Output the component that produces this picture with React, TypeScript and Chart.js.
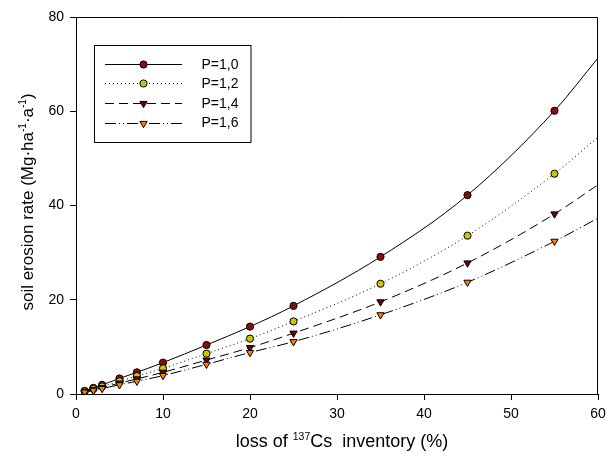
import React, { useEffect, useRef } from "react";
import { Chart, registerables } from "chart.js";

Chart.register(...registerables);

// ---- data ----
const xValues = [1, 2, 3, 5, 7, 10, 15, 20, 25, 35, 45, 55];
const curveEndX = 60;

const seriesLabels = ["P=1,0", "P=1,2", "P=1,4", "P=1,6"];
const valuesP10 = [0.66, 1.3, 1.95, 3.3, 4.6, 6.66, 10.4, 14.3, 18.7, 29.1, 42.2, 60.1];
const valuesP12 = [0.55, 1.07, 1.6, 2.7, 3.8, 5.45, 8.57, 11.75, 15.4, 23.4, 33.6, 46.75];
const valuesP14 = [0.46, 0.9, 1.35, 2.3, 3.2, 4.6, 7.2, 9.85, 12.9, 19.55, 27.8, 38.2];
const valuesP16 = [0.4, 0.77, 1.15, 1.95, 2.7, 3.9, 6.3, 8.8, 11.1, 16.8, 23.7, 32.4];
const curveEndValues = [71.3, 54.5, 44.4, 37.3];

const xTicks = [0, 10, 20, 30, 40, 50, 60];
const yTicks = [0, 20, 40, 60, 80];

// ---- styles ----
const FONT = "Arial, 'Liberation Sans', sans-serif";
const markerColors = ["#8a0c0c", "#c8c800", "#6e0000", "#ff8000"];
const markerStyles = ["circle", "circle", "triangle", "triangle"];
const markerRadius = [3.6, 3.6, 4.2, 4.2];
const lineDashes: number[][] = [[], [1, 3], [9, 5], [11, 3, 1, 3, 1, 3]];

const allValues = [valuesP10, valuesP12, valuesP14, valuesP16];

function drawMarker(ctx: CanvasRenderingContext2D, i: number, cx: number, cy: number) {
  ctx.save();
  ctx.setLineDash([]);
  ctx.fillStyle = markerColors[i];
  ctx.strokeStyle = "#000";
  ctx.lineWidth = 1;
  ctx.beginPath();
  const r = markerRadius[i];
  if (markerStyles[i] === "circle") {
    ctx.arc(cx, cy, r, 0, Math.PI * 2);
  } else {
    const s = r * Math.sqrt(3) / 2;
    ctx.moveTo(cx - s, cy - r / 2);
    ctx.lineTo(cx + s, cy - r / 2);
    ctx.lineTo(cx, cy + r);
    ctx.closePath();
  }
  ctx.fill();
  ctx.stroke();
  ctx.restore();
}

type Part = { t: string; sup?: boolean };

function richWidth(ctx: CanvasRenderingContext2D, parts: Part[], size: number, supSize: number) {
  let w = 0;
  for (const p of parts) {
    ctx.font = `${p.sup ? supSize : size}px ${FONT}`;
    w += ctx.measureText(p.t).width;
  }
  return w;
}

function drawRich(ctx: CanvasRenderingContext2D, parts: Part[], cx: number, cy: number, size: number, supSize: number) {
  const total = richWidth(ctx, parts, size, supSize);
  let x = cx - total / 2;
  ctx.textBaseline = "alphabetic";
  ctx.textAlign = "left";
  ctx.fillStyle = "#000";
  const base = cy + size * 0.36;
  for (const p of parts) {
    ctx.font = `${p.sup ? supSize : size}px ${FONT}`;
    ctx.fillText(p.t, x, p.sup ? base - size * 0.42 : base);
    x += ctx.measureText(p.t).width;
  }
}

const decorPlugin = {
  id: "decor",
  afterDraw(chart: any) {
    const ctx: CanvasRenderingContext2D = chart.ctx;
    const a = chart.chartArea;
    ctx.save();
    // frame top and right
    ctx.strokeStyle = "#000";
    ctx.lineWidth = 1;
    ctx.setLineDash([]);
    ctx.beginPath();
    const top = Math.round(a.top) + 0.5;
    const right = Math.round(a.right) - 0.5;
    ctx.moveTo(Math.round(a.left), top);
    ctx.lineTo(right, top);
    ctx.lineTo(right, Math.round(a.bottom));
    ctx.stroke();

    // x title
    drawRich(
      ctx,
      [{ t: "loss of " }, { t: "137", sup: true }, { t: "Cs  inventory (%)" }],
      342,
      441,
      18,
      10.5
    );
    // y title (rotated)
    ctx.save();
    ctx.translate(27, 202);
    ctx.rotate(-Math.PI / 2);
    drawRich(
      ctx,
      [
        { t: "soil erosion rate (Mg·ha" },
        { t: "-1", sup: true },
        { t: "·a" },
        { t: "-1", sup: true },
        { t: ")" },
      ],
      0,
      0,
      17,
      10
    );
    ctx.restore();

    // legend
    const bx = 94.5, by = 45.5, bw = 156.5, bh = 97;
    ctx.strokeStyle = "#000";
    ctx.lineWidth = 1;
    ctx.strokeRect(bx, by, bw, bh);
    seriesLabels.forEach((lab, i) => {
      const y = 63.7 + i * 19.6;
      ctx.save();
      ctx.strokeStyle = "#000";
      ctx.lineWidth = 1;
      ctx.setLineDash(lineDashes[i]);
      ctx.beginPath();
      ctx.moveTo(105, Math.round(y) + 0.5);
      ctx.lineTo(182, Math.round(y) + 0.5);
      ctx.stroke();
      ctx.restore();
      drawMarker(ctx, i, 143.5, Math.round(y) + 0.5);
      ctx.fillStyle = "#000";
      ctx.font = `14px ${FONT}`;
      ctx.textAlign = "left";
      ctx.textBaseline = "middle";
      ctx.fillText(lab, 201.5, y + 1);
    });
    ctx.restore();
  },
};

export default function App() {
  const ref = useRef<HTMLCanvasElement | null>(null);

  useEffect(() => {
    document.body.style.margin = "0";
    const canvas = ref.current;
    if (!canvas) return;

    const datasets = seriesLabels.map((label, i) => {
      const pts = xValues.map((x, j) => ({ x, y: allValues[i][j] }));
      pts.push({ x: curveEndX, y: curveEndValues[i] });
      return {
        label,
        data: pts,
        borderColor: "#000",
        borderWidth: 1,
        borderDash: lineDashes[i],
        backgroundColor: markerColors[i],
        pointBackgroundColor: markerColors[i],
        pointBorderColor: "#000",
        pointBorderWidth: 1,
        pointStyle: markerStyles[i],
        pointRotation: markerStyles[i] === "triangle" ? 180 : 0,
        pointRadius: (c: any) => (c.raw && c.raw.x === curveEndX ? 0 : markerRadius[i]),
        pointHoverRadius: 0,
        cubicInterpolationMode: "monotone",
        fill: false,
        order: 3 - i,
      };
    });

    const tickFont = { family: FONT, size: 14 };

    const chart = new Chart(canvas, {
      type: "line",
      data: { datasets: datasets as any },
      options: {
        animation: false,
        responsive: false,
        devicePixelRatio: 1,
        layout: { padding: { top: 17, right: 18, left: 0, bottom: 0 } },
        plugins: { legend: { display: false }, tooltip: { enabled: false } },
        scales: {
          x: {
            type: "linear",
            min: 0,
            max: 60,
            afterBuildTicks: (s: any) => {
              s.ticks = xTicks.map((v) => ({ value: v }));
            },
            ticks: { font: tickFont, color: "#000", padding: 6 },
            grid: { drawOnChartArea: false, drawTicks: true, tickLength: 6, color: "#000" },
            border: { display: true, color: "#000", width: 1 },
            afterFit: (s: any) => {
              s.height = 66;
            },
          },
          y: {
            type: "linear",
            min: 0,
            max: 80,
            afterBuildTicks: (s: any) => {
              s.ticks = yTicks.map((v) => ({ value: v }));
            },
            ticks: { font: tickFont, color: "#000", padding: 6 },
            grid: { drawOnChartArea: false, drawTicks: true, tickLength: 6, color: "#000" },
            border: { display: true, color: "#000", width: 1 },
            afterFit: (s: any) => {
              s.width = 76;
            },
          },
        },
      } as any,
      plugins: [decorPlugin],
    });

    return () => chart.destroy();
  }, []);

  return (
    <div style={{ width: 616, height: 460 }}>
      <canvas ref={ref} width={616} height={460} style={{ display: "block" }} />
    </div>
  );
}
